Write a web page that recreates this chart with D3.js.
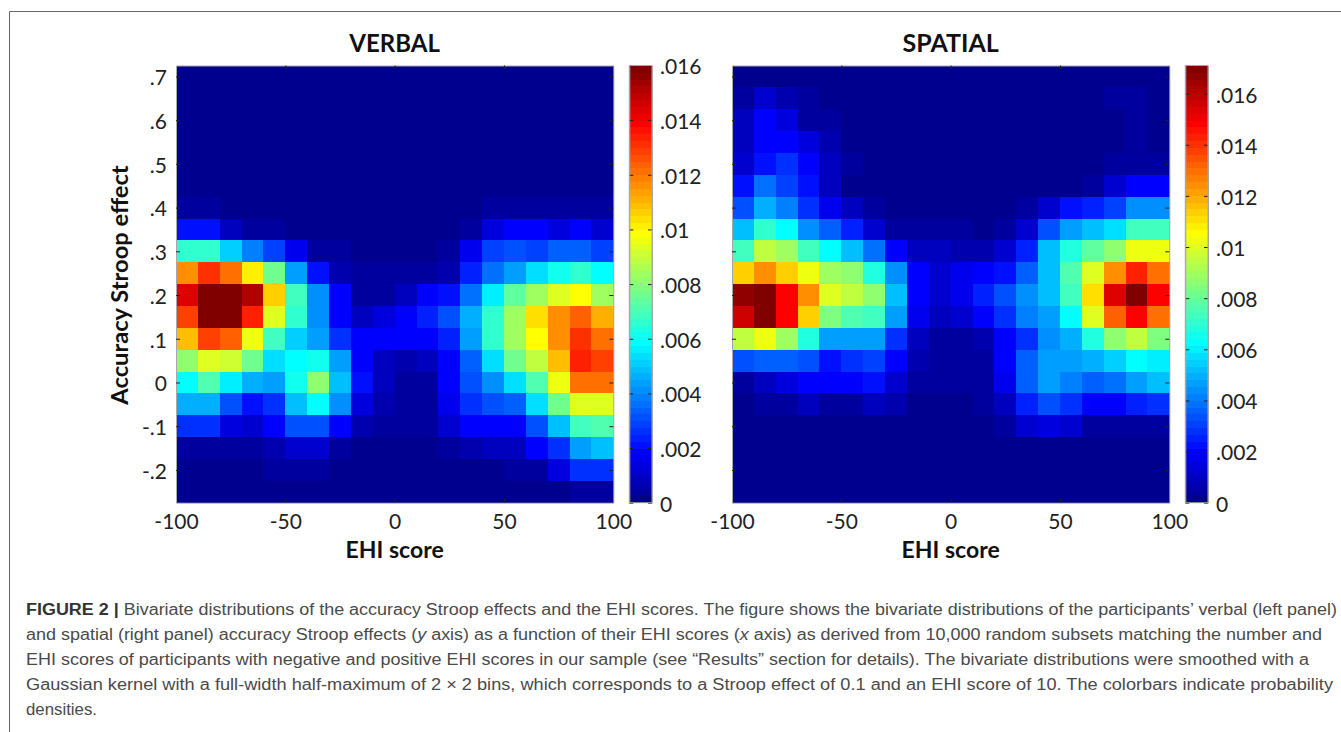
<!DOCTYPE html>
<html><head><meta charset="utf-8">
<script src="https://cdn.jsdelivr.net/npm/d3@7"></script>
<style>html,body{margin:0;padding:0;background:#fff}svg{display:block}</style>
</head><body><svg id="c" width="1341" height="732"></svg>
<script>
// Densities as a percentage of each panel's colorbar maximum; rows top to bottom, columns left to right.
const verbalPct = [
[.5,.5,.5,.5,.5,.5,.5,.5,.5,.5,.5,.5,.5,.5,.5,.5,.5,.5,.5,.5],
[.5,.5,.5,.5,.5,.5,.5,.5,.5,.5,.5,.5,.5,.5,.5,.5,.5,.5,.5,.5],
[.5,.5,.5,.5,.5,.5,.5,.5,.5,.5,.5,.5,.5,.5,.5,.5,.5,.5,.5,.5],
[.5,.5,.5,.5,.5,.5,.5,.5,.5,.5,.5,.5,.5,.5,.5,.5,.5,.5,.5,.5],
[.5,.5,.5,.5,.5,.5,.5,.5,.5,.5,.5,.5,.5,.5,.5,.5,1,1,1,.5],
[.5,.5,.5,.5,.5,.5,.5,.5,.5,.5,.5,.5,.5,.5,.5,1,1.5,1.5,1.5,1.5],
[2,2,1,1,1,.5,.5,.5,.5,.5,.5,.5,1,1.5,2,2,2,2.5,2,2],
[14,13,5.5,2.5,2,1.5,1,1,.5,.5,.5,.5,1.5,2,8.5,12,12,8.5,12,7],
[42,42,32,24,18,10,2.5,2,1,1,1,1,2,10,18,19,18,21,21,18],
[72,82,76,63,47,28,13,4,2,2,2,2,4,15,23,28,33,39,42,36],
[90,100,100,94,67,43,25,12,2.5,2.5,5.5,12,14,23,35,46,53,59,62,53],
[81,100,100,84,59,41,25,12,5.5,8.5,12,15,19,29,42,53,65,73,78,69],
[68,80,77,60,43,32,27,17,12,12,12,12,15,27,41,53,62,73,82,76],
[51,59,57,47,33,36,39,27,12,5.5,4,5.5,12,21,33,47,55,68,83,80],
[37,44,35,29,27,39,50,31,14,5.5,2.5,2.5,12,20,25,34,45,60,75,75],
[29,29,20,14,17,31,37,25,8.5,4,2.5,2.5,10,17,19,21,33,47,59,59],
[16,16,8.5,7,12,19,19,12,4,2,2,2,7,12,12,12,20,30,43,44],
[2.5,2.5,2,2,4,7,7,2.5,1.5,1.5,1.5,1.5,2.5,4,5.5,5.5,12,17,27,30],
[1,1,1,1,2,2,2,1,1,1,1,1,1.5,1.5,1.5,2,2.5,8.5,17,16],
[.5,.5,.5,.5,.5,.5,.5,.5,.5,.5,.5,.5,.5,.5,.5,1,1.5,1.5,2,2.5]];
const spatialPct = [
[.5,1,.5,.5,.5,.5,.5,.5,.5,.5,.5,.5,.5,.5,.5,.5,1,1,1,1],
[2.5,7,4,2,.5,.5,.5,.5,.5,.5,.5,.5,.5,.5,.5,.5,1,2,2,1],
[5.5,12,8.5,2.5,2,.5,.5,.5,.5,.5,.5,.5,.5,.5,.5,.5,1,1.5,2,1.5],
[5.5,12,12,8.5,4,.5,.5,.5,.5,.5,.5,.5,.5,.5,.5,.5,.5,1,2,1],
[7,14,16,12,5.5,2,.5,.5,.5,.5,.5,.5,.5,.5,.5,.5,1.5,2,2.5,2.5],
[14,22,18,14,5.5,1.5,.5,.5,.5,.5,.5,.5,.5,.5,1,1.5,2,7,12,12],
[20,29,24,16,10,5.5,2,1,1,1.5,1,1,1,2,7,14,15,18,25,25],
[30,41,36,26,21,15,7,2,2,2.5,2,1.5,2,7,20,28,30,33,43,43],
[43,55,53,43,37,31,22,12,5.5,5.5,4,4,7,15,30,40,46,50,60,60],
[67,72,67,60,53,50,40,25,12,7,10,12,14,21,30,44,58,73,84,76],
[97,100,87,72,59,55,51,30,12,7,10,15,20,25,30,43,65,90,100,87],
[92,99,87,67,49,44,43,27,10,5.5,7,12,17,24,27,37,58,78,86,75],
[56,60,53,40,27,27,27,17,5.5,2,2,4,12,17,25,29,40,50,56,49],
[19,21,21,19,14,16,18,12,4,2,2,2,12,21,27,28,29,32,37,35],
[2.5,5.5,8.5,12,12,12,14,7,2.5,2,2,2,10,21,27,24,21,22,28,30],
[1,2,2,5.5,2.5,2.5,5.5,4,1.5,1.5,.5,2,5.5,15,20,17,12,12,15,16],
[.5,.5,.5,1.5,1.5,1.5,1.5,.5,.5,.5,.5,.5,2,7,8.5,7,2,2,2.5,2.5],
[.5,.5,.5,.5,.5,.5,.5,.5,.5,.5,.5,.5,.5,1.5,1.5,1.5,1,1,1.5,1.5],
[.5,.5,.5,.5,.5,.5,.5,.5,.5,.5,.5,.5,.5,.5,.5,.5,.5,.5,.5,1],
[.5,.5,.5,.5,.5,.5,.5,.5,.5,.5,.5,.5,.5,.5,.5,.5,.5,.5,.5,.5]];
const xTicks = [-100,-50,0,50,100];
const yTicks = [-0.2,-0.1,0,0.1,0.2,0.3,0.4,0.5,0.6,0.7];
const xDomain = [-100,100];
const yDomain = [-0.275,0.725];
const verbalMax = 0.016, spatialMax = 0.0171;
const verbalBarTicks = [0,0.002,0.004,0.006,0.008,0.01,0.012,0.014,0.016];
const spatialBarTicks = verbalBarTicks;
const jetStops = ["#00008f","#0000ff","#00ffff","#ffff00","#ff0000","#800000"];
const jetPos = [0,7/63,23/63,39/63,55/63,1];
const captionLines = [
 {end:1337,parts:[["FIGURE 2 | ","b"],["Bivariate distributions of the accuracy Stroop effects and the EHI scores. The figure shows the bivariate distributions of the participants’ verbal (left panel)",""]]},
 {end:1322,parts:[["and spatial (right panel) accuracy Stroop effects (",""],["y","i"],[" axis) as a function of their EHI scores (",""],["x","i"],[" axis) as derived from 10,000 random subsets matching the number and",""]]},
 {end:1309,parts:[["EHI scores of participants with negative and positive EHI scores in our sample (see “Results” section for details). The bivariate distributions were smoothed with a",""]]},
 {end:1333,parts:[["Gaussian kernel with a full-width half-maximum of 2 × 2 bins, which corresponds to a Stroop effect of 0.1 and an EHI score of 10. The colorbars indicate probability",""]]},
 {end:97,parts:[["densities.",""]]}
];

const svg = d3.select("#c");
const LABEL = "Lato, 'Open Sans', sans-serif";
const jetBase = d3.scaleLinear().domain(jetPos).range(jetStops).interpolate(d3.interpolateRgb).clamp(true);
const LEVELS = 64;
const jet = d3.scaleQuantize().domain([0,1]).range(d3.range(LEVELS).map(i => jetBase(i/(LEVELS-1))));
const fmt = v => { if (Math.abs(v) < 1e-9) return "0"; return String(+v.toFixed(3)).replace("0.", "."); };

// figure frame
svg.append("path").attr("d","M1341,11.5H9.5V732").attr("fill","none").attr("stroke","#666").attr("stroke-width",1);

function panel(o){
  const g = svg.append("g");
  const x = d3.scaleLinear().domain(xDomain).range([o.left,o.left+437.3]);
  const y = d3.scaleLinear().domain(yDomain).range([502.7,65.5]);
  const cols = d3.scaleBand().domain(d3.range(20)).range(x.range());
  const rows = d3.scaleBand().domain(d3.range(20)).range([65.5,502.7]);
  const color = d3.scaleLinear().domain([0,100]).range([0,1]);
  const cells = o.data.flatMap((r,i)=>r.map((v,j)=>({i,j,v})));
  g.append("g").attr("shape-rendering","crispEdges").selectAll("rect").data(cells).join("rect")
    .attr("x",d=>cols(d.j)).attr("y",d=>rows(d.i))
    .attr("width",cols.bandwidth()+0.5).attr("height",rows.bandwidth()+0.5)
    .attr("fill",d=>jet(color(d.v)));

  const styleAxis = (a,labels)=>{
    a.select(".domain").attr("stroke","#a8a8a8").attr("stroke-width",1);
    a.selectAll(".tick line").attr("stroke","#222").attr("stroke-width",1);
    a.selectAll(".tick text").attr("font-family",LABEL).attr("font-size",21).attr("fill","#222");
    if(!labels) a.selectAll(".tick text").remove();
  };
  const bottom = g.append("g").attr("transform",`translate(0,${y.range()[0]})`)
    .call(d3.axisBottom(x).tickValues(xTicks).tickSize(-4).tickSizeOuter(0).tickFormat(fmt).tickPadding(11));
  styleAxis(bottom,true);
  bottom.selectAll(".tick line").filter(d=>d===-100||d===100).remove();
  const top = g.append("g").attr("transform",`translate(0,${y.range()[1]})`)
    .call(d3.axisTop(x).tickValues(xTicks).tickSize(-4).tickSizeOuter(0));
  styleAxis(top,false);
  top.selectAll(".tick line").filter(d=>d===-100||d===100).remove();
  const left = g.append("g").attr("transform",`translate(${o.left},0)`)
    .call(d3.axisLeft(y).tickValues(yTicks).tickSize(-4).tickSizeOuter(0).tickFormat(fmt).tickPadding(9));
  styleAxis(left,o.yLabels);
  left.selectAll(".tick text").attr("dy","0.4em");
  const right = g.append("g").attr("transform",`translate(${o.left+437.3},0)`)
    .call(d3.axisRight(y).tickValues(yTicks).tickSize(-4).tickSizeOuter(0));
  styleAxis(right,false);

  g.append("text").attr("x",(x(0))).attr("y",52).attr("text-anchor","middle")
    .attr("font-family",LABEL).attr("font-weight",700).attr("font-size",o.titleSize).attr("fill","#111").text(o.title);
  g.append("text").attr("x",x(0)).attr("y",558).attr("text-anchor","middle")
    .attr("font-family",LABEL).attr("font-weight",700).attr("font-size",23).attr("fill","#111").text("EHI score");

  // colorbar
  const barX = o.left+453.3, barW = 22.7;
  const cy = d3.scaleLinear().domain([0,o.max]).range([502.7,65.5]);
  const bars = d3.range(LEVELS);
  const bh = 437.2/LEVELS;
  g.append("g").attr("shape-rendering","crispEdges").selectAll("rect").data(bars).join("rect")
    .attr("x",barX).attr("width",barW)
    .attr("y",d=>502.7-(d+1)*bh).attr("height",bh+0.5)
    .attr("fill",d=>jet.range()[d]);
  const ca = g.append("g").attr("transform",`translate(${barX+barW},0)`)
    .call(d3.axisRight(cy).tickValues(o.barTicks).tickSize(-4).tickSizeOuter(0).tickFormat(fmt).tickPadding(8));
  styleAxis(ca,true);
  ca.selectAll(".tick text").attr("dy","0.4em");
  const cb = g.append("g").attr("transform",`translate(${barX},0)`)
    .call(d3.axisLeft(cy).tickValues(o.barTicks).tickSize(-4).tickSizeOuter(0));
  styleAxis(cb,false);
  g.append("rect").attr("x",barX).attr("y",65.5).attr("width",barW).attr("height",437.2)
    .attr("fill","none").attr("stroke","#a8a8a8");
}

panel({left:176,title:"VERBAL",titleSize:24,data:verbalPct,max:verbalMax,barTicks:verbalBarTicks,yLabels:true});
panel({left:732,title:"SPATIAL",titleSize:25,data:spatialPct,max:spatialMax,barTicks:spatialBarTicks,yLabels:false});

svg.append("text").attr("transform","translate(128,285) rotate(-90)").attr("text-anchor","middle")
  .attr("font-family",LABEL).attr("font-weight",700).attr("font-size",23.7).attr("fill","#111").text("Accuracy Stroop effect");

const capY = d3.scaleLinear().domain([0,4]).range([615,715]);
captionLines.forEach((ln,i)=>{
  const t = svg.append("text").attr("x",26).attr("y",capY(i))
    .attr("font-family","'Liberation Sans',Arial,sans-serif").attr("font-size",15.8).attr("fill","#4a4a4a")
    .attr("textLength",ln.end-26).attr("lengthAdjust","spacingAndGlyphs");
  ln.parts.forEach(p=>{
    const s = t.append("tspan").text(p[0]);
    if(p[1]==="b") s.attr("font-weight",700).attr("fill","#333");
    if(p[1]==="i") s.attr("font-style","italic");
  });
});
</script></body></html>
